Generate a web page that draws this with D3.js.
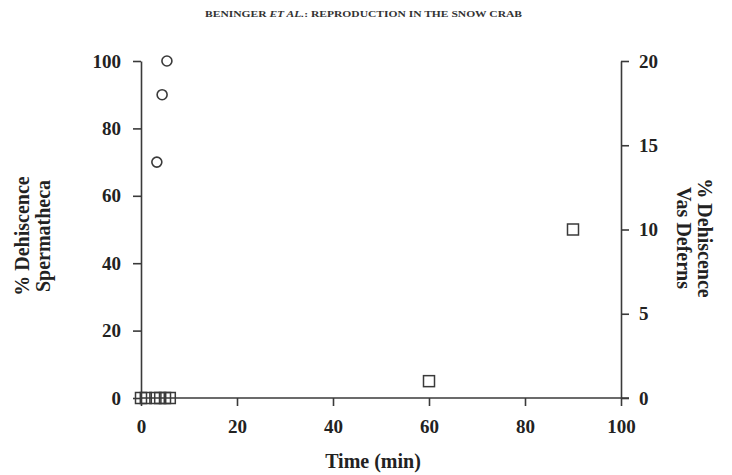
<!DOCTYPE html>
<html><head><meta charset="utf-8">
<script src="https://cdn.jsdelivr.net/npm/d3@7"></script>
<style>body{margin:0;background:#fff}svg{display:block}text{font-family:"Liberation Serif","Times New Roman",serif}</style>
</head><body><svg id="c" width="732" height="475"></svg>
<script>
const xTicks=[0,20,40,60,80,100];
const leftTicks=[0,20,40,60,80,100];
const rightTicks=[0,5,10,15,20];
const spermTime=[3.3,4.4,5.4];
const spermValue=[70,90,100];
const vasTime=[0,1,3,4,5,6,60,90];
const vasValue=[0,0,0,0,0,0,1,10];

const svg=d3.select("#c");
const L=141,R=621,T=61,B=398;
const x=d3.scaleLinear().domain([0,100]).range([L,R]);
const yL=d3.scaleLinear().domain([0,100]).range([B,T]);
const yR=d3.scaleLinear().domain([0,20]).range([B,T]);
const ink="#3a3a3a";

svg.append("text").attr("x",205).attr("y",17).attr("font-size",8.5).attr("textLength",317)
  .attr("lengthAdjust","spacingAndGlyphs").attr("fill","#333").attr("font-weight","bold")
  .html('BENINGER <tspan font-style="italic">ET AL.</tspan>: REPRODUCTION IN THE SNOW CRAB');

function style(g){
  g.selectAll("path,line").attr("stroke",ink).attr("stroke-width",1.6);
  g.selectAll("text").attr("font-size",19).attr("font-weight","bold").attr("fill","#222")
   .attr("font-family","'Liberation Serif',serif");
}
const gx=svg.append("g").attr("transform",`translate(0,${B})`)
  .call(d3.axisBottom(x).tickValues(xTicks).tickSize(8).tickSizeOuter(0).tickPadding(14));
style(gx);
const gl=svg.append("g").attr("transform",`translate(${L},0)`)
  .call(d3.axisLeft(yL).tickValues(leftTicks).tickSize(8).tickSizeOuter(0).tickPadding(12));
style(gl);
const gr=svg.append("g").attr("transform",`translate(${R},0)`)
  .call(d3.axisRight(yR).tickValues(rightTicks).tickSize(8).tickSizeOuter(0).tickPadding(10));
style(gr);
gx.select(".domain").attr("d",`M${L},0H${R+8}`);

svg.append("text").attr("x",373).attr("y",468).attr("text-anchor","middle")
  .attr("font-size",20).attr("font-weight","bold").attr("fill","#222").text("Time (min)");

const lt=svg.append("text").attr("transform","translate(0,236) rotate(-90)")
  .attr("text-anchor","middle").attr("font-size",20).attr("font-weight","bold").attr("fill","#222");
lt.append("tspan").attr("x",0).attr("y",29).text("% Dehiscence");
lt.append("tspan").attr("x",0).attr("y",50).text("Spermatheca");

const rt=svg.append("text").attr("transform","translate(720,238) rotate(90)")
  .attr("text-anchor","middle").attr("font-size",20).attr("font-weight","bold").attr("fill","#222");
rt.append("tspan").attr("x",0).attr("y",22).text("% Dehiscence");
rt.append("tspan").attr("x",0).attr("y",43).text("Vas Deferns");

svg.append("g").selectAll("rect").data(vasTime.map((t,i)=>[t,vasValue[i]])).join("rect")
  .attr("x",d=>x(d[0])-5.5).attr("y",d=>yR(d[1])-5.5).attr("width",11).attr("height",11)
  .attr("fill","none").attr("stroke",ink).attr("stroke-width",1.5);
svg.append("g").selectAll("circle").data(spermTime.map((t,i)=>[t,spermValue[i]])).join("circle")
  .attr("cx",d=>x(d[0])).attr("cy",d=>yL(d[1])).attr("r",5)
  .attr("fill","none").attr("stroke",ink).attr("stroke-width",1.6);
</script></body></html>
